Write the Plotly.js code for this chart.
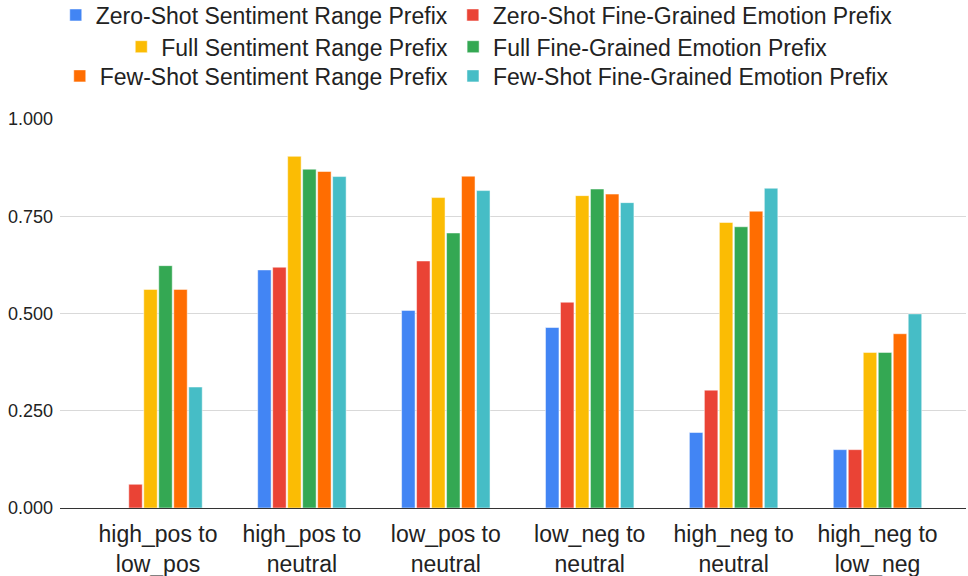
<!DOCTYPE html>
<html>
<head>
<meta charset="utf-8">
<script src="https://cdn.plot.ly/plotly-3.0.1.min.js"></script>
<style>html,body{margin:0;padding:0;background:#fff;}#chart{width:968px;height:576px;}</style>
</head>
<body>
<div id="chart"></div>
<script>
const categories = ["high_pos to<br>low_pos", "high_pos to<br>neutral", "low_pos to<br>neutral", "low_neg to<br>neutral", "high_neg to<br>neutral", "high_neg to<br>low_neg"];
const seriesNames = [
  "Zero-Shot Sentiment Range Prefix",
  "Zero-Shot Fine-Grained Emotion Prefix",
  "Full Sentiment Range Prefix",
  "Full Fine-Grained Emotion Prefix",
  "Few-Shot Sentiment Range Prefix",
  "Few-Shot Fine-Grained Emotion Prefix"
];
const zeroShotSentiment = [0.000, 0.612, 0.508, 0.464, 0.194, 0.150];
const zeroShotEmotion   = [0.061, 0.619, 0.635, 0.529, 0.303, 0.150];
const fullSentiment     = [0.562, 0.904, 0.798, 0.803, 0.734, 0.400];
const fullEmotion       = [0.623, 0.871, 0.707, 0.820, 0.723, 0.400];
const fewShotSentiment  = [0.562, 0.865, 0.853, 0.807, 0.763, 0.448];
const fewShotEmotion    = [0.311, 0.852, 0.816, 0.785, 0.822, 0.499];
const tickVals = [0, 0.25, 0.5, 0.75, 1.0];
const tickText = ["0.000", "0.250", "0.500", "0.750", "1.000"];

const seriesValues = [zeroShotSentiment, zeroShotEmotion, fullSentiment, fullEmotion, fewShotSentiment, fewShotEmotion];
const colors = ["#4285F4", "#EA4335", "#FBBC04", "#34A853", "#FF6D01", "#46BDC6"];
const legendIds = ["legend", "legend", "legend2", "legend2", "legend3", "legend3"];

const traces = seriesNames.map((name, i) => ({
  type: "bar",
  name: name,
  x: categories,
  y: seriesValues[i],
  marker: {color: colors[i], line: {color: "#ffffff", width: 0.5}},
  legend: legendIds[i],
  hoverinfo: "y+name"
}));

const FONT = "Liberation Sans, Arial, sans-serif";
const legendBase = {
  orientation: "h",
  xref: "paper", yref: "paper",
  x: 0.46, xanchor: "center", yanchor: "top",
  font: {family: FONT, size: 23, color: "#222"},
  bgcolor: "rgba(0,0,0,0)",
  itemwidth: 30,
  tracegroupgap: 0
};

const layout = {
  width: 968, height: 576,
  margin: {l: 60, r: 2, t: 119, b: 68, autoexpand: false},
  paper_bgcolor: "#fff", plot_bgcolor: "#fff",
  font: {family: FONT, color: "#222"},
  barmode: "group",
  bargap: 0.375,
  bargroupgap: 0.1,
  showlegend: true,
  legend: Object.assign({}, legendBase, {y: 1.3226}),
  legend2: Object.assign({}, legendBase, {y: 1.241}),
  legend3: Object.assign({}, legendBase, {y: 1.166}),
  xaxis: {
    range: [-0.681, 5.615],
    tickfont: {size: 23, color: "#222"},
    showline: true, linecolor: "#333", linewidth: 1,
    ticks: "", showgrid: false, automargin: false,
    ticklabelstandoff: 5
  },
  yaxis: {
    range: [0, 1.0], tickvals: tickVals, ticktext: tickText,
    tickfont: {size: 18, color: "#222"},
    showgrid: true, gridcolor: "#d9d9d9", gridwidth: 1,
    zeroline: false, showline: false, ticks: "", ticklen: 0,
    ticklabelstandoff: 6,
    automargin: false
  }
};

Plotly.newPlot("chart", traces, layout, {displayModeBar: false, staticPlot: true});
</script>
</body>
</html>
